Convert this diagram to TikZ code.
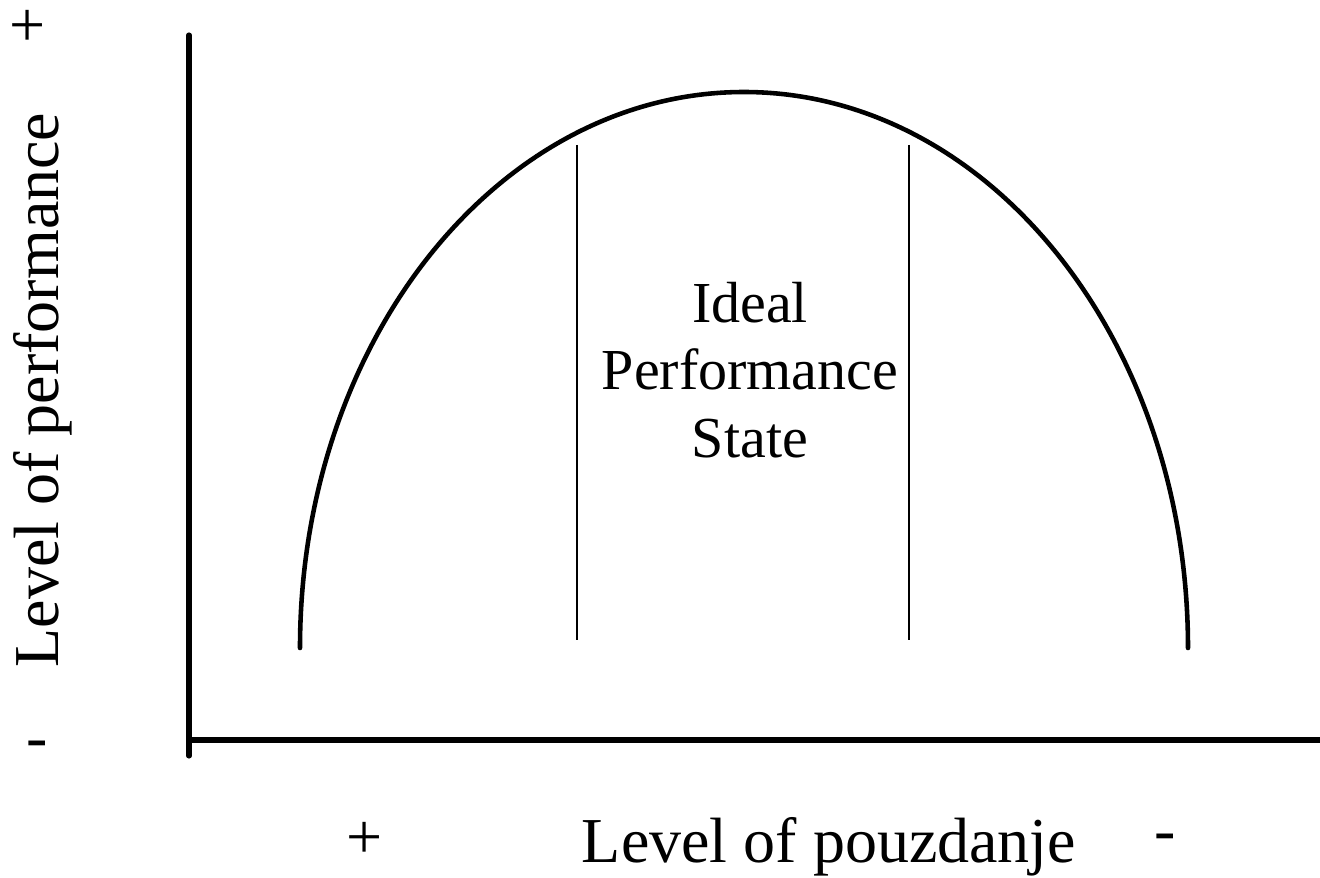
\documentclass[tikz,border=0pt]{standalone}
\usepackage{fontspec}
\setmainfont{Liberation Serif}
\usetikzlibrary{positioning}

\begin{document}
\begin{tikzpicture}[
      x=0.01cm, y=0.01cm,
      lbl/.style={font=\fontsize{18.2}{21}\selectfont,inner sep=0pt,anchor=base},
      axis/.style={line width=1.45pt,line cap=round},
      curve/.style={line width=1.3pt,line cap=round},
      zone/.style={line width=0.6pt},
    ]
    \useasboundingbox (0,0) rectangle (1320,878);

    % axes
    \coordinate (ytop) at (189,843);
    \coordinate (orig) at (189,138);
    \coordinate (xend) at (1320,138);
    \draw[axis] (ytop) -- (189,122);
    \draw[axis] (orig) -- (xend);

    % performance curve
    \draw[curve] (300,230) arc[start angle=180, end angle=0, x radius=444, y radius=556];

    % ideal zone
    \draw[zone] (577,733) -- (577,238);
    \draw[zone] (909,733) -- (909,238);
    \node[font=\fontsize{16.5}{19.2}\selectfont,align=center,inner sep=0pt] (ips) at (750,508)
      {Ideal\\Performance\\State};

    % axis labels
    \node[lbl,rotate=90] (ylbl) at (58,488) {Level of performance};
    \node[lbl] (yplus) at (28,831) {+};
    \node[lbl] (yminus) at (37,119) {-};
    \node[lbl] (xlbl) at (829,15) {Level of pouzdanje};
    \node[lbl] (xplus) at (365,19) {+};
    \node[lbl] (xminus) at (1165,27) {-};
  \end{tikzpicture}
\end{document}
